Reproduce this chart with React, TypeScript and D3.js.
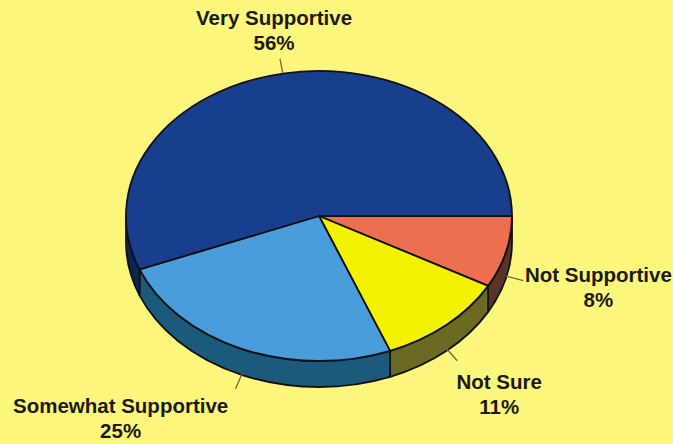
import React from "react";
import * as d3 from "d3";

const categories = ["Not Supportive", "Not Sure", "Somewhat Supportive", "Very Supportive"];
const values = [8, 11, 25, 56];
const topColors = ["#ee6f50", "#f4f201", "#4a9ddb", "#173f8e"];
const sideColors = ["#5a3428", "#6a6a22", "#1c5a7c", "#0d2552"];

const W = 673;
const H = 444;
const cx = 319;
const cy = 216;
const rx = 193;
const ry = 145;
const depth = 26;

const labelLayout: Record<string, { len: number; dx: number; dy: number }> = {
  "Not Supportive": { len: 18, dx: 75, dy: 1 },
  "Not Sure": { len: 16, dx: 42, dy: 28 },
  "Somewhat Supportive": { len: 17, dx: -115, dy: 24 },
  "Very Supportive": { len: 15, dx: -6, dy: -34 },
};

function pt(theta: number, yOff = 0): [number, number] {
  return [cx + rx * Math.sin(theta), cy - ry * Math.cos(theta) + yOff];
}

export default function App() {
  const pie = d3
    .pie<number>()
    .sort(null)
    .startAngle(Math.PI / 2)
    .endAngle(Math.PI / 2 + 2 * Math.PI);
  const arcs = pie(values);

  const sides: JSX.Element[] = [];
  arcs.forEach((a, i) => {
    const s = Math.max(a.startAngle, Math.PI / 2);
    const e = Math.min(a.endAngle, (3 * Math.PI) / 2);
    if (e <= s) return;
    const [x0, y0] = pt(s);
    const [x1, y1] = pt(e);
    const large = e - s > Math.PI ? 1 : 0;
    const d = `M${x0},${y0} A${rx},${ry} 0 ${large} 1 ${x1},${y1} L${x1},${y1 + depth} A${rx},${ry} 0 ${large} 0 ${x0},${y0 + depth} Z`;
    sides.push(
      <path key={"s" + i} d={d} fill={sideColors[i]} stroke="#111" strokeWidth={1.8} strokeLinejoin="round" />
    );
  });

  const tops = arcs.map((a, i) => {
    const [x0, y0] = pt(a.startAngle);
    const [x1, y1] = pt(a.endAngle);
    const large = a.endAngle - a.startAngle > Math.PI ? 1 : 0;
    const d = `M${cx},${cy} L${x0},${y0} A${rx},${ry} 0 ${large} 1 ${x1},${y1} Z`;
    return <path key={"t" + i} d={d} fill={topColors[i]} stroke="#111" strokeWidth={1.8} strokeLinejoin="round" />;
  });

  const labels = arcs.map((a, i) => {
    const mid = (a.startAngle + a.endAngle) / 2;
    const front = Math.cos(mid) < 0;
    const [sx, sy] = pt(mid, front ? depth - 2 : 0);
    const dirX = Math.sin(mid);
    const dirY = -Math.cos(mid);
    const n = Math.hypot(dirX, dirY);
    const L = labelLayout[categories[i]];
    const ex = sx + (dirX / n) * L.len;
    const ey = sy + (dirY / n) * L.len;
    const tx = ex + L.dx;
    const ty = ey + L.dy;
    const pct = Math.round((values[i] / d3.sum(values)) * 100) + "%";
    return (
      <g key={"l" + i}>
        <line x1={sx} y1={sy} x2={ex} y2={ey} stroke="#6e6a2c" strokeWidth={1.3} />
        <text
          x={tx}
          y={ty}
          textAnchor="middle"
          fontFamily="'Liberation Sans', Arial, sans-serif"
          fontWeight="bold"
          fontSize={20.5}
          fill="#1b1a12"
        >
          <tspan x={tx} dy={0}>{categories[i]}</tspan>
          <tspan x={tx} dy={25}>{pct}</tspan>
        </text>
      </g>
    );
  });

  return (
    <svg
      width={W}
      height={H}
      style={{ position: "absolute", left: 0, top: 0, display: "block" }}
      viewBox={`0 0 ${W} ${H}`}
    >
      <rect x={0} y={0} width={W} height={H} fill="#fdf67d" />
      {sides}
      {tops}
      {labels}
    </svg>
  );
}
